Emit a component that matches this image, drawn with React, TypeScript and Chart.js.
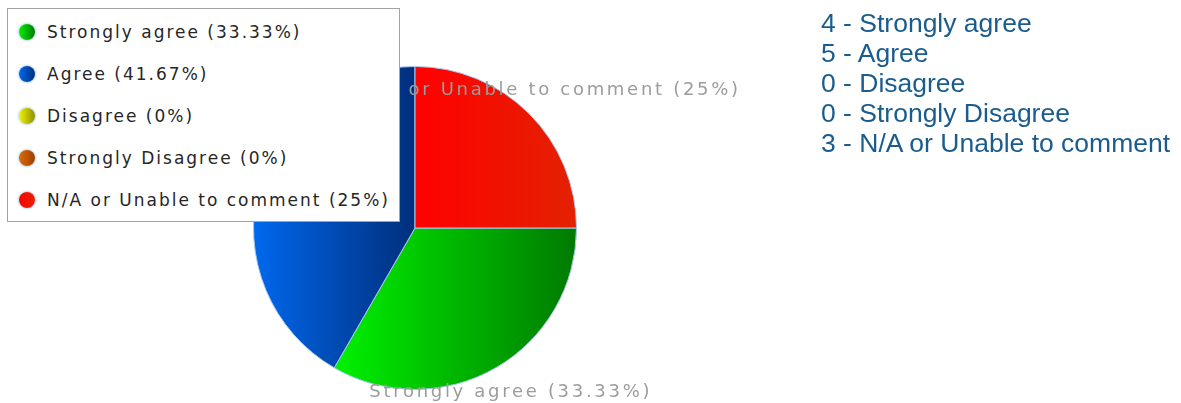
import React, { useEffect, useRef } from "react";
import { Chart, registerables } from "chart.js";

Chart.register(...registerables);

const categories = [
  "Strongly agree",
  "Agree",
  "Disagree",
  "Strongly Disagree",
  "N/A or Unable to comment",
];
const counts = [4, 5, 0, 0, 3];
const lightColors = ["#00f200", "#0068ee", "#f2f200", "#e06a00", "#ff0000"];
const darkColors = ["#007a00", "#002f7c", "#8f8f00", "#9c4000", "#e32200"];

const total = counts.reduce((a, b) => a + b, 0);
const percents = counts.map((v) => Math.round((v / total) * 10000) / 100);
const legendLabels = categories.map((c, i) => `${c} (${percents[i]}%)`);
const summaryLines = categories.map((c, i) => `${counts[i]} - ${c}`);

const gradientPlugin = {
  id: "sliceGradients",
  beforeDatasetsDraw(chart: any) {
    const ctx = chart.ctx;
    const meta = chart.getDatasetMeta(0);
    meta.data.forEach((arc: any, i: number) => {
      const { x, startAngle, endAngle, outerRadius } = arc;
      let minX = x;
      let maxX = x;
      const steps = 60;
      for (let s = 0; s <= steps; s++) {
        const a = startAngle + ((endAngle - startAngle) * s) / steps;
        const px = x + Math.cos(a) * outerRadius;
        minX = Math.min(minX, px);
        maxX = Math.max(maxX, px);
      }
      if (maxX - minX < 1) maxX = minX + 1;
      const g = ctx.createLinearGradient(minX, 0, maxX, 0);
      g.addColorStop(0, lightColors[i]);
      g.addColorStop(1, darkColors[i]);
      arc.options = { ...arc.options, backgroundColor: g };
    });
  },
};

const labelPlugin = {
  id: "sliceLabels",
  afterDatasetsDraw(chart: any) {
    const ctx = chart.ctx;
    const meta = chart.getDatasetMeta(0);
    ctx.save();
    ctx.font = '18px "DejaVu Sans"';
    try {
      (ctx as any).letterSpacing = "2.7px";
    } catch (e) {}
    ctx.fillStyle = "#9c9c9c";
    ctx.textAlign = "center";
    ctx.textBaseline = "middle";
    meta.data.forEach((arc: any, i: number) => {
      if (!counts[i]) return;
      const mid = (arc.startAngle + arc.endAngle) / 2;
      const d = arc.outerRadius + 30;
      ctx.fillText(
        legendLabels[i],
        arc.x + Math.cos(mid) * d,
        arc.y + Math.sin(mid) * d - 2
      );
    });
    ctx.restore();
  },
};

export default function App() {
  const ref = useRef<HTMLCanvasElement | null>(null);

  useEffect(() => {
    if (!ref.current) return;
    const chart = new Chart(ref.current, {
      type: "pie",
      data: {
        labels: categories,
        datasets: [
          {
            data: counts,
            backgroundColor: lightColors,
            borderColor: "#a9c8e8",
            borderWidth: 1,
          },
        ],
      },
      options: {
        responsive: false,
        animation: false,
        rotation: 90,
        layout: { padding: { left: 253, right: 604, top: 66, bottom: 13 } },
        plugins: {
          legend: { display: false },
          tooltip: { enabled: false },
          title: { display: false },
        },
      },
      plugins: [gradientPlugin, labelPlugin],
    } as any);
    return () => chart.destroy();
  }, []);

  return (
    <div
      style={{
        position: "absolute",
        left: 0,
        top: 0,
        width: 1181,
        height: 403,
        background: "#ffffff",
        overflow: "hidden",
      }}
    >
      <canvas
        ref={ref}
        width={1181}
        height={403}
        style={{ position: "absolute", left: 0, top: 0, width: 1181, height: 403 }}
      />
      <div
        style={{
          position: "absolute",
          left: 7,
          top: 8,
          width: 393,
          height: 214,
          boxSizing: "border-box",
          border: "1px solid #a3a3a3",
          background: "#ffffff",
          paddingTop: 2,
        }}
      >
        {legendLabels.map((t, i) => (
          <div
            key={t}
            style={{ display: "flex", alignItems: "center", height: 42 }}
          >
            <span
              style={{
                display: "inline-block",
                width: 16,
                height: 16,
                marginLeft: 11,
                marginRight: 12,
                borderRadius: "50%",
                background: `linear-gradient(to right, ${lightColors[i]}, ${darkColors[i]})`,
                boxShadow: "0 0 2px 1px #b4d8f2",
              }}
            />
            <span
              style={{
                font: '17px "DejaVu Sans"',
                letterSpacing: "2px",
                color: "#262626",
                whiteSpace: "nowrap",
              }}
            >
              {t}
            </span>
          </div>
        ))}
      </div>
      <div
        style={{
          position: "absolute",
          left: 821,
          top: 8,
          font: '26.5px "Liberation Sans", Arial, sans-serif',
          lineHeight: "30px",
          color: "#1a5c8e",
          whiteSpace: "nowrap",
        }}
      >
        {summaryLines.map((s) => (
          <div key={s}>{s}</div>
        ))}
      </div>
    </div>
  );
}
